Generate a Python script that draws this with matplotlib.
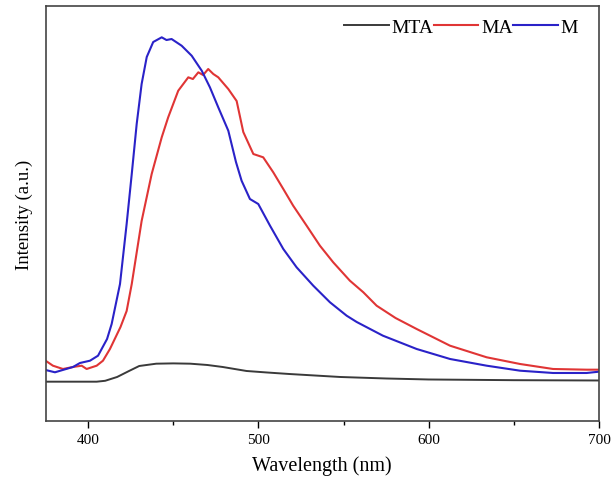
import numpy as np
import matplotlib
matplotlib.use("Agg")
import matplotlib.pyplot as plt
from matplotlib.ticker import MultipleLocator

# --- data (wavelength in nm, intensity in a.u.) ---
mta_wl = [375, 405, 410, 417, 424, 430, 440, 450, 460, 470, 479, 493, 505, 518, 548, 575, 600, 650, 700]
mta_int = [39.3, 39.3, 40.2, 44, 50, 55, 57.3, 57.6, 57.3, 56, 54, 50, 48.5, 47, 44, 42.5, 41.5, 40.8, 40.5]

ma_wl = [375, 379.3, 385.2, 391.1, 396.2, 399.1, 405.0, 408.7, 412.8, 419.0, 422.6, 425.6, 431.4, 437.3,
         443.2, 447.0, 452.9, 458.8, 461.5, 464.7, 467.5, 470.5, 473.5, 476.4, 482.3, 487.2, 491.1,
         497.0, 502.8, 508.7, 514.6, 520.4, 528.3, 536.1, 543.9, 553.7, 561.6, 569.4, 580.5, 592.9,
         612.5, 634.0, 653.6, 673.0, 692.7, 700]
ma_int = [60.3, 55.3, 52, 54, 55.3, 52, 55.3, 60.3, 72, 94, 110, 137, 200, 247,
          283.7, 303.7, 330.3, 343.7, 342, 348.7, 346, 352, 347, 343.7, 332, 320, 289,
          267, 263.7, 248.7, 232, 215.3, 195.3, 175.3, 158.7, 140.3, 128.7, 115.3, 103, 92,
          75.3, 63.7, 57, 52, 51.3, 51.3]

m_wl = [375, 380.5, 391.1, 395.2, 401.1, 405.8, 411.1, 413.8, 418.7, 422.6, 425.6, 428.5, 431.4, 434.4,
        438.2, 443.2, 446.0, 449.0, 454.9, 460.8, 466.7, 471.5, 476.4, 482.3, 486.8, 490.1, 495.0,
        499.9, 506.8, 514.6, 522.4, 532.2, 542.0, 551.8, 557.7, 573.1, 592.9, 612.5, 634.0, 653.6,
        673.0, 692.7, 700]
m_int = [51, 48.7, 54, 58, 60.3, 65.3, 82, 97, 137, 197, 247, 297, 337, 364,
         379, 383.7, 381, 382, 375.3, 365.3, 350.3, 333.7, 313.7, 290.3, 259, 240.3, 222,
         217, 195.3, 172, 153.7, 135.3, 118.7, 105.3, 99, 85.3, 72, 62, 55.3, 50.3,
         48, 48, 49.3]

plt.rcParams["font.family"] = ["Liberation Serif", "DejaVu Serif"]

fig = plt.figure(figsize=(6.11, 4.81), dpi=100)
ax = fig.add_axes([0.0746, 0.1227, 0.9058, 0.8627])

ax.plot(mta_wl, mta_int, color="#3a3a3a", lw=1.4, label="MTA")
ax.plot(ma_wl, ma_int, color="#e03535", lw=1.5, label="MA")
ax.plot(m_wl, m_int, color="#2a22c8", lw=1.5, label="M")

ax.set_xlim(375, 700)
ax.set_ylim(0, 415)
ax.set_yticks([])
ax.xaxis.set_major_locator(MultipleLocator(100))
ax.xaxis.set_minor_locator(MultipleLocator(50))
ax.tick_params(axis="x", which="major", length=5, width=1, labelsize=11, direction="out")
ax.tick_params(axis="x", which="minor", length=3, width=1, direction="out")
for s in ax.spines.values():
    s.set_color("#444444")
    s.set_linewidth(1.2)

ax.set_xlabel("Wavelength (nm)", fontsize=14.5, labelpad=7)
ax.set_ylabel("Intensity (a.u.)", fontsize=13.5, labelpad=9)

ax.legend(loc="upper right", bbox_to_anchor=(0.985, 1.0), ncol=3, frameon=False, fontsize=14,
          handlelength=2.3, handletextpad=0.15, columnspacing=0.0, borderaxespad=0.25)

fig.savefig("out.png", dpi=100)
